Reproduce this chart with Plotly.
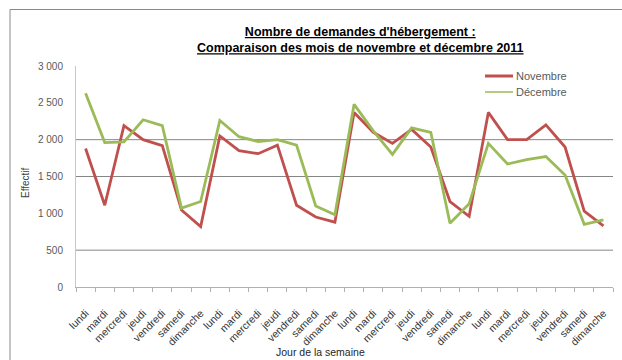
import plotly.graph_objects as go

# ---- data ----
days = ["lundi", "mardi", "mercredi", "jeudi", "vendredi", "samedi", "dimanche"] * 4
novembre = [1880, 1110, 2190, 2000, 1920, 1045, 820,
            2050, 1850, 1810, 1925, 1110, 950, 880,
            2370, 2100, 1950, 2140, 1900, 1160, 960,
            2370, 2000, 2000, 2200, 1900, 1030, 830]
decembre = [2630, 1960, 1970, 2270, 2190, 1070, 1160,
            2260, 2040, 1975, 2000, 1925, 1100, 980,
            2480, 2120, 1800, 2160, 2100, 865, 1130,
            1950, 1670, 1730, 1770, 1520, 850, 910]
series_names = ["Novembre", "Décembre"]
y_ticks = [0, 500, 1000, 1500, 2000, 2500, 3000]
y_ticklabels = ["0", "500", "1 000", "1 500", "2 000", "2 500", "3 000"]
grid_values = [500, 1500, 2000]

RED = "#C0504D"
GREEN = "#9BBB59"
FONT = "Liberation Sans, Arial, sans-serif"

W, H = 622, 360
L, R, T, B = 76, 613, 66, 287   # plot area in pixels


def px_x(p):
    return (p - L) / (R - L)


def px_y(p):
    return (B - p) / (B - T)


x = list(range(len(days)))

fig = go.Figure()
fig.add_trace(go.Scatter(x=x, y=novembre, mode="lines", name=series_names[0],
                         line=dict(color=RED, width=2.8), showlegend=False))
fig.add_trace(go.Scatter(x=x, y=decembre, mode="lines", name=series_names[1],
                         line=dict(color=GREEN, width=2.8), showlegend=False))

shapes = []
for g in grid_values:
    shapes.append(dict(type="line", xref="paper", yref="y", x0=0, x1=1, y0=g, y1=g,
                       line=dict(color="#868686", width=1), layer="below"))
# outer chart frame
shapes.append(dict(type="rect", xref="paper", yref="paper",
                   x0=px_x(10), x1=px_x(640), y0=px_y(9.5), y1=px_y(380),
                   line=dict(color="#8a8a8a", width=1), fillcolor="rgba(0,0,0,0)",
                   layer="below"))

annotations = [
    dict(text="<b><u>Nombre de demandes d'hébergement :</u></b><br>"
              "<b><u>Comparaison des mois de novembre et décembre 2011</u></b>",
         xref="paper", yref="paper", x=px_x(360), y=px_y(39.5), xanchor="center",
         yanchor="middle", showarrow=False, align="center",
         font=dict(family=FONT, size=12.5, color="#000000")),
    dict(text="Effectif", xref="paper", yref="paper", x=px_x(25), y=px_y(183),
         xanchor="center", yanchor="middle", textangle=-90, showarrow=False,
         font=dict(family=FONT, size=10, color="#404040")),
    dict(text="Jour de la semaine", xref="paper", yref="paper", x=px_x(320),
         y=px_y(352), xanchor="center", yanchor="middle", showarrow=False,
         font=dict(family=FONT, size=10.5, color="#262626")),
]

# custom legend (compact, like the original)
legend_rows = [(series_names[0], RED, 3, 76), (series_names[1], GREEN, 1.5, 92)]
for name, color, lw, ypx in legend_rows:
    shapes.append(dict(type="line", xref="paper", yref="paper",
                       x0=px_x(485), x1=px_x(513), y0=px_y(ypx), y1=px_y(ypx),
                       line=dict(color=color, width=lw)))
    annotations.append(dict(text=name, xref="paper", yref="paper", x=px_x(513.5),
                            y=px_y(ypx), xanchor="left", yanchor="middle",
                            showarrow=False,
                            font=dict(family=FONT, size=11, color="#595959")))

fig.update_layout(
    width=W, height=H,
    margin=dict(l=L, r=W - R, t=T, b=H - B, pad=0),
    paper_bgcolor="white", plot_bgcolor="white",
    shapes=shapes, annotations=annotations,
    showlegend=False,
    xaxis=dict(range=[-0.5, len(days) - 0.5], tickmode="array", tickvals=x,
               ticktext=days, tickangle=-45, ticks="", showgrid=False, zeroline=False,
               showline=True, linecolor="#b0b0b0", linewidth=1,
               ticklabelstandoff=15,
               tickfont=dict(family=FONT, size=10.5, color="#333333"),
               minor=dict(tickmode="linear", tick0=-0.5, dtick=1, ticks="outside",
                          ticklen=4, tickcolor="#b0b0b0", showgrid=False)),
    yaxis=dict(range=[0, 3000], tickmode="array", tickvals=y_ticks,
               ticktext=y_ticklabels, showgrid=False, zeroline=False,
               showline=True, linecolor="#c8c8c8", linewidth=1, ticks="",
               ticklabelstandoff=10,
               tickfont=dict(family=FONT, size=10, color="#595959")),
    font=dict(family=FONT),
)

fig.write_html("out.html")
